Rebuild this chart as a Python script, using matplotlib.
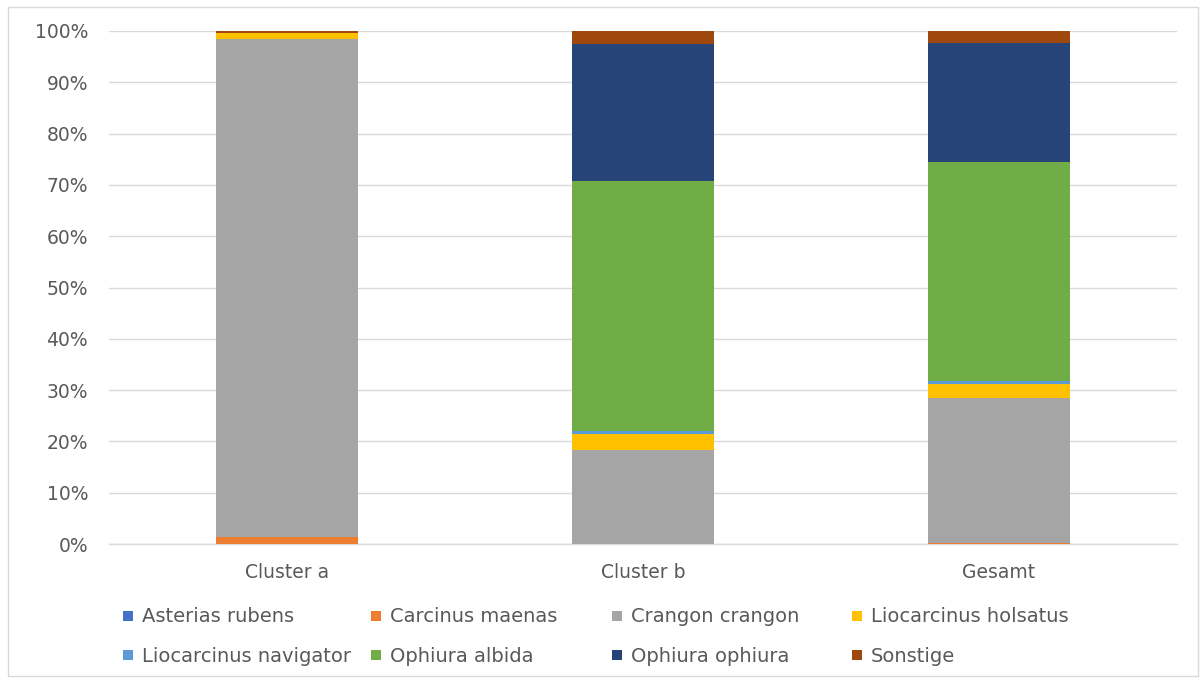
import matplotlib
matplotlib.use("Agg")
import matplotlib.pyplot as plt
from matplotlib.patches import Rectangle
import numpy as np

categories = ["Cluster a", "Cluster b", "Gesamt"]
series = ["Asterias rubens", "Carcinus maenas", "Crangon crangon", "Liocarcinus holsatus",
          "Liocarcinus navigator", "Ophiura albida", "Ophiura ophiura", "Sonstige"]
asterias_rubens = [0.0, 0.0, 0.0]
carcinus_maenas = [1.3, 0.0, 0.1]
crangon_crangon = [97.1, 18.4, 28.4]
liocarcinus_holsatus = [1.2, 3.0, 2.7]
liocarcinus_navigator = [0.0, 0.6, 0.6]
ophiura_albida = [0.0, 48.8, 42.7]
ophiura_ophiura = [0.1, 26.6, 23.2]
sonstige = [0.3, 2.6, 2.3]
values = [asterias_rubens, carcinus_maenas, crangon_crangon, liocarcinus_holsatus,
          liocarcinus_navigator, ophiura_albida, ophiura_ophiura, sonstige]
colors = ["#4472C4", "#ED7D31", "#A5A5A5", "#FFC000", "#5B9BD5", "#70AD47", "#264478", "#9E480E"]

plt.rcParams['font.family'] = ['DejaVu Sans']
W, H = 1202, 679
fig = plt.figure(figsize=(W / 100, H / 100), dpi=100)
ax = fig.add_axes([109 / W, 1 - 544 / H, (1177 - 109) / W, (544 - 31) / H])

x = np.arange(len(categories))
bottom = np.zeros(len(categories))
totals = np.sum(np.array(values, dtype=float), axis=0)
for name, vals, c in zip(series, values, colors):
    pct = np.array(vals, dtype=float) / totals * 100
    ax.bar(x, pct, 0.4, bottom=bottom, color=c, label=name, zorder=3, linewidth=0)
    bottom += pct

ax.set_xlim(-0.5, 2.5)
ax.set_ylim(0, 100)
ax.set_yticks(np.arange(0, 101, 10))
ax.set_yticklabels([f"{t}%" for t in range(0, 101, 10)])
ax.set_xticks(x)
ax.set_xticklabels(categories)
ax.tick_params(length=0, labelsize=13.5, colors="#595959")
ax.tick_params(axis='y', pad=15)
ax.tick_params(axis='x', pad=14)
ax.grid(axis='y', color="#D9D9D9", linewidth=1, zorder=0)
for s in ["top", "right", "left"]:
    ax.spines[s].set_visible(False)
ax.spines["bottom"].set_color("#D9D9D9")
ax.spines["bottom"].set_linewidth(1)

# legend, manual grid
col_x = [123, 371, 612, 852]
row_y = [616, 655]
for i, (name, c) in enumerate(zip(series, colors)):
    r, cc = divmod(i, 4)
    px, py = col_x[cc], row_y[r]
    fig.patches.append(Rectangle((px / W, 1 - (py + 5) / H), 10 / W, 10 / H,
                                 transform=fig.transFigure, facecolor=c, edgecolor='none'))
    fig.text((px + 19) / W, 1 - (py + 1) / H, name, fontsize=14, color="#595959",
             va='center', ha='left')

fig.patches.append(Rectangle((8 / W, 1 - 676 / H), (1198 - 8) / W, (676 - 7) / H,
                             transform=fig.transFigure, facecolor='none',
                             edgecolor="#D9D9D9", linewidth=1))

fig.savefig("out.png", dpi=100)
